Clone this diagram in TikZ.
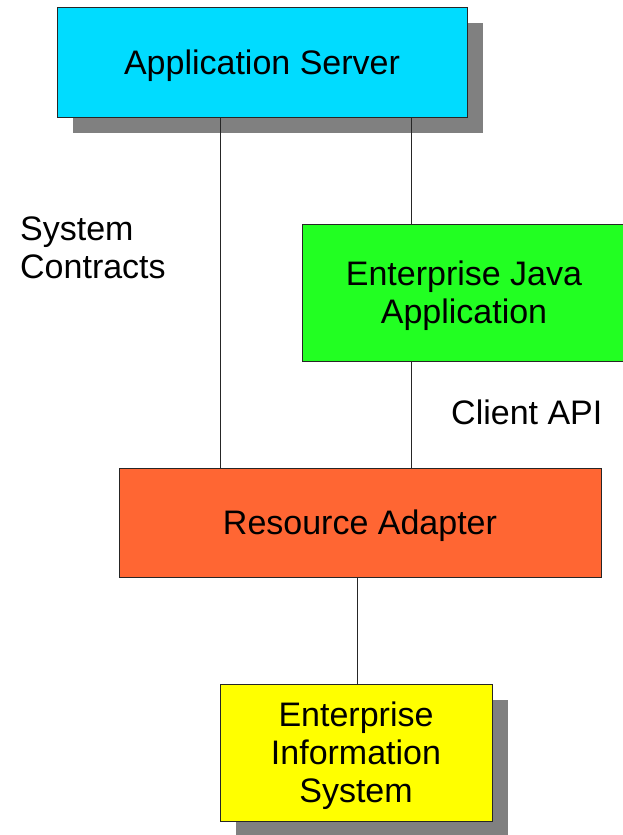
\documentclass[tikz,border=0pt]{standalone}
\usepackage{fontspec}
\setmainfont{Liberation Sans}
\usetikzlibrary{shadows}
\definecolor{servercyan}{RGB}{0,220,255}
\definecolor{appgreen}{RGB}{34,255,34}
\definecolor{adapterorange}{RGB}{255,102,51}
\definecolor{eisyellow}{RGB}{255,255,0}
\definecolor{shadowgray}{RGB}{128,128,128}
\tikzset{
  box/.style={draw=black!85, line width=1pt, rectangle, align=center, inner sep=0pt,
    text depth=0pt, font=\fontsize{34}{38}\selectfont},
  shadowed/.style={drop shadow={shadow xshift=16pt, shadow yshift=-16pt,
    fill=shadowgray, opacity=1}},
  link/.style={draw=black!85, line width=0.9pt},
  caption/.style={font=\fontsize{34}{38}\selectfont, inner sep=0pt, align=left}
}
\begin{document}
\begin{tikzpicture}[x=1pt,y=-1pt]
  \useasboundingbox (0,0) rectangle (623,835);
  \begin{scope}
    \clip (0,0) rectangle (623,835);
    % components
    \node[box, shadowed, fill=servercyan, minimum width=410pt, minimum height=110pt] (app) at (262,62) {Application Server};
    \node[box, fill=appgreen, minimum width=324pt, minimum height=137pt] (eja) at (464,292.5) {Enterprise Java\\Application};
    \node[box, fill=adapterorange, minimum width=482pt, minimum height=109pt] (ra) at (360,522.5) {Resource Adapter};
    \node[box, shadowed, fill=eisyellow, minimum width=272pt, minimum height=137pt] (eis) at (356,752.5) {Enterprise\\Information\\System};
    % connectors
    \coordinate (sysx) at (220,0);
    \coordinate (apix) at (411,0);
    \coordinate (eisx) at (357,0);
    \draw[link] (sysx |- app.south) -- (sysx |- ra.north);
    \draw[link] (apix |- app.south) -- (apix |- eja.north);
    \draw[link] (apix |- eja.south) -- (apix |- ra.north);
    \draw[link] (eisx |- ra.south) -- (eisx |- eis.north);
    % labels
    \node[caption, anchor=west] (syscon) at (20,248) {System\\Contracts};
    \node[caption, anchor=west] (clientapi) at (451,412) {Client API};
  \end{scope}
\end{tikzpicture}
\end{document}
